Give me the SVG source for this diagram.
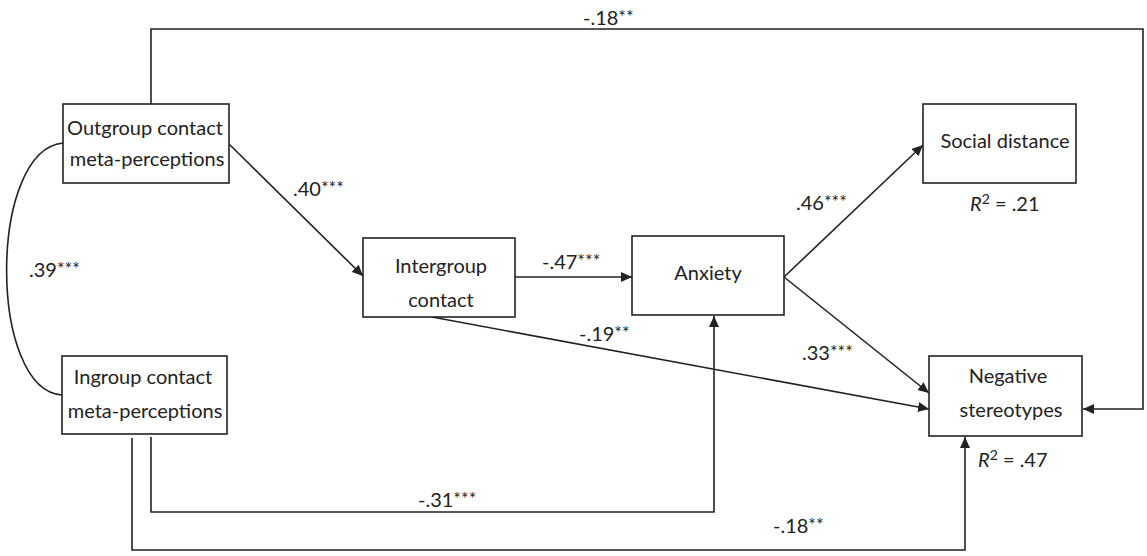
<svg xmlns="http://www.w3.org/2000/svg" width="1147" height="556" viewBox="0 0 1147 556">
<style>
.box{fill:#fff;stroke:#222;stroke-width:1.6}
.t{font-family:Lato,"Open Sans","Liberation Sans",sans-serif;font-size:20px;fill:#222}
.m{text-anchor:middle}
.c{fill:none;stroke:#222;stroke-width:1.6}
.s{font-size:18px}
.r{font-size:14px}
</style>
<defs>
<marker id="ah" markerUnits="userSpaceOnUse" markerWidth="12" markerHeight="10" refX="11" refY="5" orient="auto">
<path d="M0,0 L11,5 L0,10 z" fill="#222"/>
</marker>
</defs>
<rect width="1147" height="556" fill="#fff"/>
<g id="connectors">
<path class="c" d="M63,143 C-12,150 -12,390 62,395"/>
<line class="c" x1="229" y1="144" x2="363" y2="276" marker-end="url(#ah)"/>
<line class="c" x1="515" y1="277" x2="632" y2="277" marker-end="url(#ah)"/>
<line class="c" x1="432" y1="317" x2="929" y2="409" marker-end="url(#ah)"/>
<line class="c" x1="784" y1="277" x2="923" y2="145" marker-end="url(#ah)"/>
<line class="c" x1="784" y1="277" x2="929" y2="393" marker-end="url(#ah)"/>
<polyline class="c" points="151,437 151,512 714,512 714,316" marker-end="url(#ah)"/>
<polyline class="c" points="132,438 132,550 965,550 965,437" marker-end="url(#ah)"/>
<polyline class="c" points="151,104 151,29 1143,29 1143,409 1083,409" marker-end="url(#ah)"/>
<g class="t">
<text x="29" y="277">.39<tspan class="s" dy="-2">***</tspan></text>
<text x="293" y="196">.40<tspan class="s" dy="-2">***</tspan></text>
<text x="542" y="269">-.47<tspan class="s" dy="-2">***</tspan></text>
<text x="579" y="341">-.19<tspan class="s" dy="-2">**</tspan></text>
<text x="796" y="210">.46<tspan class="s" dy="-2">***</tspan></text>
<text x="802" y="360">.33<tspan class="s" dy="-2">***</tspan></text>
<text x="418" y="507">-.31<tspan class="s" dy="-2">***</tspan></text>
<text x="773" y="533">-.18<tspan class="s" dy="-2">**</tspan></text>
<text x="583" y="25">-.18<tspan class="s" dy="-2">**</tspan></text>
</g>
</g>
<g id="outgroup">
<rect class="box" x="63" y="104" width="166" height="79"/>
<text class="t m" x="145" y="135">Outgroup contact</text>
<text class="t m" x="147" y="166">meta-perceptions</text>
</g>
<g id="ingroup">
<rect class="box" x="62" y="356" width="165" height="78"/>
<text class="t m" x="143" y="384">Ingroup contact</text>
<text class="t m" x="145" y="418">meta-perceptions</text>
</g>
<g id="intergroup">
<rect class="box" x="363" y="238" width="152" height="79"/>
<text class="t m" x="441" y="273">Intergroup</text>
<text class="t m" x="441" y="307">contact</text>
</g>
<g id="anxiety">
<rect class="box" x="632" y="236" width="152" height="79"/>
<text class="t m" x="708" y="280">Anxiety</text>
</g>
<g id="social">
<rect class="box" x="923" y="104" width="153" height="79"/>
<text class="t m" x="1005" y="148">Social distance</text>
<text class="t" x="970" y="211"><tspan font-style="italic">R</tspan><tspan class="r" dy="-7">2</tspan><tspan dy="7"> = .21</tspan></text>
</g>
<g id="negative">
<rect class="box" x="929" y="356" width="153" height="80"/>
<text class="t m" x="1008" y="383">Negative</text>
<text class="t m" x="1011" y="417">stereotypes</text>
<text class="t" x="978" y="467"><tspan font-style="italic">R</tspan><tspan class="r" dy="-7">2</tspan><tspan dy="7"> = .47</tspan></text>
</g>
</svg>
